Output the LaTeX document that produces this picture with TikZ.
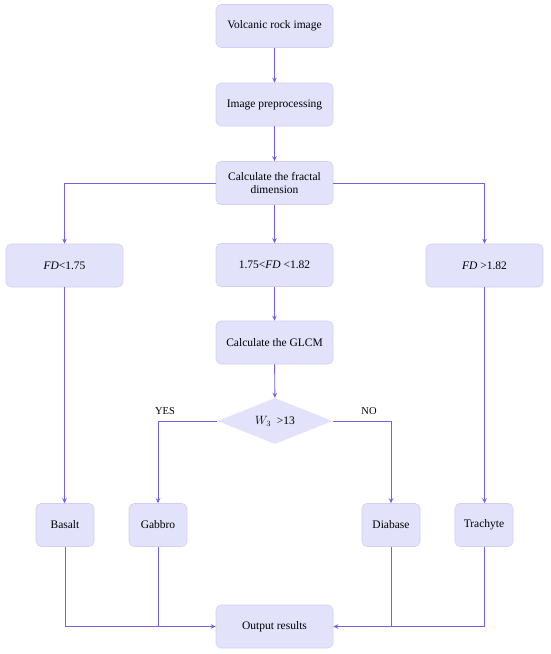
\documentclass[tikz,border=0pt]{standalone}
\usepackage{fontspec}
\setmainfont{Liberation Serif}
\usetikzlibrary{shapes.geometric,arrows.meta}
\definecolor{boxfill}{HTML}{E2E2FB}
\definecolor{boxline}{HTML}{D0D0F4}
\definecolor{linec}{HTML}{7560E2}
\tikzset{
  x=1pt,y=-1pt,
  proc/.style={draw=boxline,fill=boxfill,rounded corners=5pt,minimum width=117pt,minimum height=43pt,align=center,font=\fontsize{11.5}{13}\selectfont,inner sep=2pt,line width=0.6pt},
  rock/.style={proc,minimum width=58pt},
  dec/.style={diamond,fill=boxfill,draw=none,minimum width=115pt,minimum height=46pt,aspect=2.5,inner sep=0pt,font=\fontsize{11.5}{13}\selectfont},
  conn/.style={draw=linec,line width=0.9pt,-{Stealth[length=5pt,width=4.5pt]}},
  plain/.style={draw=linec,line width=0.9pt},
  lab/.style={font=\fontsize{10.5}{12}\selectfont}
}
\begin{document}
\begin{tikzpicture}
\useasboundingbox (0,0) rectangle (550,654);
\node[proc] (img) at (274.5,26) {Volcanic rock image};
\node[proc] (pre) at (274.5,104.5) {Image preprocessing};
\node[proc] (fd) at (274.5,183) {Calculate the fractal\\dimension};
\node[proc] (lo) at (64.5,265.5) {\textit{FD}<1.75};
\node[proc] (mid) at (274.5,265) {1.75<\textit{FD} <1.82};
\node[proc] (hi) at (484.5,265.5) {\textit{FD} >1.82};
\node[proc] (glcm) at (274.5,342.5) {Calculate the GLCM};
\node[dec] (w) at (275,421) {$W_3$\ \ >13};
\node[rock] (bas) at (65,525) {Basalt};
\node[rock] (gab) at (158,525) {Gabbro};
\node[rock] (dia) at (391,525) {Diabase};
\node[rock] (tra) at (484,525) {Trachyte};
\node[proc] (out) at (274.5,626.5) {Output results};
\draw[conn] (img) -- (pre);
\draw[conn] (pre) -- (fd);
\draw[conn] (fd.west) -| (lo.north);
\draw[conn] (fd) -- (mid);
\draw[conn] (fd.east) -| (hi.north);
\draw[conn] (mid) -- (glcm);
\draw[conn] (glcm) -- (w);
\draw[conn] (lo.south) -- (lo.south |- bas.north);
\draw[conn] (hi.south) -- (hi.south |- tra.north);
\draw[conn] (w.west) -| (gab.north);
\draw[conn] (w.east) -| (dia.north);
\node[lab] (yes) at (165,411) {YES};
\node[lab] (no) at (369,411) {NO};
\draw[conn] (bas.south) |- (out.west);
\draw[plain] (gab.south) -- (gab.south |- out.west);
\draw[conn] (tra.south) |- (out.east);
\draw[plain] (dia.south) -- (dia.south |- out.east);
\end{tikzpicture}
\end{document}
